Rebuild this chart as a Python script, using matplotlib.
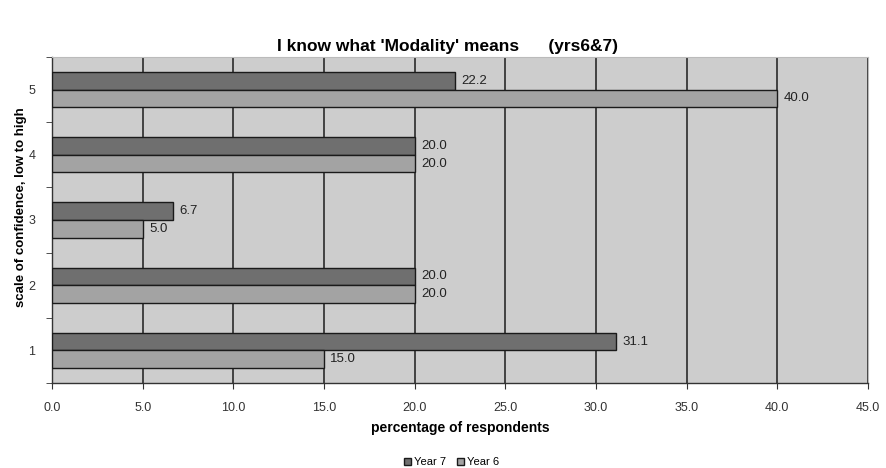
import matplotlib
matplotlib.use("Agg")
import matplotlib.pyplot as plt
import numpy as np

plt.rcParams["font.family"] = ["Liberation Sans", "DejaVu Sans"]

levels = ["1", "2", "3", "4", "5"]
year7 = [31.1, 20.0, 6.7, 20.0, 22.2]
year6 = [15.0, 20.0, 5.0, 20.0, 40.0]
series_names = ["Year 7", "Year 6"]
colors = ["#6f6f6f", "#a3a3a3"]

fig = plt.figure(figsize=(8.86, 4.68), dpi=100)
ax = fig.add_axes([52 / 886, 1 - 383 / 468, 816 / 886, 326 / 468])
ax.set_facecolor("#cdcdcd")

y = np.arange(len(levels))
h = 0.27
b7 = ax.barh(y + h / 2, year7, height=h, color=colors[0], edgecolor="#1a1a1a",
             linewidth=1.0, label=series_names[0], zorder=3)
b6 = ax.barh(y - h / 2, year6, height=h, color=colors[1], edgecolor="#1a1a1a",
             linewidth=1.0, label=series_names[1], zorder=3)
for bars, vals in ((b7, year7), (b6, year6)):
    for bar, v in zip(bars, vals):
        ax.text(v + 0.35, bar.get_y() + bar.get_height() / 2, f"{v:.1f}",
                va="center", ha="left", fontsize=9.5, color="#222222", zorder=4)

ax.set_xlim(0, 45)
ax.set_ylim(-0.5, len(levels) - 0.5)
ax.set_xticks(np.arange(0, 46, 5))
ax.set_xticklabels([f"{v:.1f}" for v in np.arange(0, 46, 5)], fontsize=9, color="#333333")
ax.set_yticks(y)
ax.set_yticklabels(levels, fontsize=9, color="#333333")
ax.tick_params(axis="y", length=0, pad=12)
ax.set_yticks(np.arange(-0.5, len(levels), 1), minor=True)
ax.tick_params(axis="y", which="minor", length=4, color="#333333")
ax.tick_params(axis="x", length=4, color="#333333", pad=10)
ax.grid(axis="x", color="#2a2a2a", linewidth=1.2, zorder=1)
ax.set_axisbelow(True)
for s in ("left", "bottom"):
    ax.spines[s].set_color("#333333")
    ax.spines[s].set_linewidth(1.0)
for s in ("top", "right"):
    ax.spines[s].set_color("#bbbbbb")
    ax.spines[s].set_linewidth(0.8)

ax.set_xlabel("percentage of respondents", fontsize=10, fontweight="bold", labelpad=5)
ax.set_ylabel("scale of confidence, low to high", fontsize=9.5, fontweight="bold")
ax.yaxis.set_label_coords(-0.031, 0.54)
fig.text(0.505, 1 - 47 / 468, "I know what 'Modality' means      (yrs6&7)",
         ha="center", va="center", fontsize=12.5, fontweight="bold")

fig.legend(handles=[b7, b6], loc="center", bbox_to_anchor=(0.51, 1 - 462 / 468),
           ncol=2, frameon=False, fontsize=8, handlelength=0.6, handleheight=0.6,
           handletextpad=0.3, columnspacing=1.0)

fig.savefig("out.png", dpi=100)
